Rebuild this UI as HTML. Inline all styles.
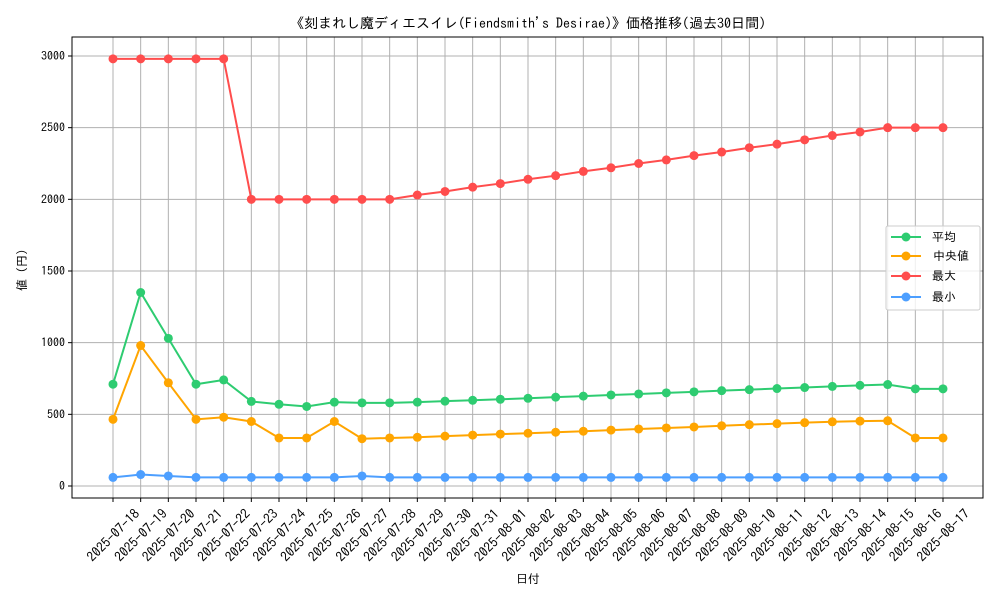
<!DOCTYPE html>
<html><head><meta charset="utf-8"><style>
body{margin:0;background:#fff}
svg text{font-family:"IPAGothic","Noto Sans CJK JP",sans-serif;fill:#000}
</style></head><body>
<svg id="chart" width="1000" height="600" xmlns="http://www.w3.org/2000/svg">
<rect width="1000" height="600" fill="#fff"/>
<text x="528" y="28" font-size="14" text-anchor="middle">《刻まれし魔ディエスイレ(Fiendsmith's Desirae)》価格推移(過去30日間)</text>
<g id="grid"></g><g id="series"></g><g id="axes"></g>
<text x="528" y="583" font-size="12" text-anchor="middle">日付</text>
<text transform="translate(26,270) rotate(-90)" font-size="12" text-anchor="middle">値 (円)</text>
<g>
<rect x="886" y="226" width="94" height="84" fill="#fff" fill-opacity="0.8" stroke="#ccc" rx="2"/>
<line x1="891" y1="237" x2="921" y2="237" stroke="#2ecc71" stroke-width="2"/><circle cx="906" cy="237" r="4.5" fill="#2ecc71"/>
<text x="932" y="241" font-size="12">平均</text>
<line x1="891" y1="256" x2="921" y2="256" stroke="#ffa500" stroke-width="2"/><circle cx="906" cy="256" r="4.5" fill="#ffa500"/>
<text x="933" y="260" font-size="12">中央値</text>
<line x1="891" y1="276" x2="921" y2="276" stroke="#ff4d4d" stroke-width="2"/><circle cx="906" cy="276" r="4.5" fill="#ff4d4d"/>
<text x="932" y="280" font-size="12">最大</text>
<line x1="891" y1="297" x2="921" y2="297" stroke="#4d9fff" stroke-width="2"/><circle cx="906" cy="297" r="4.5" fill="#4d9fff"/>
<text x="932" y="301" font-size="12">最小</text>
</g>
</svg>
<script>
const dates=["2025-07-18","2025-07-19","2025-07-20","2025-07-21","2025-07-22","2025-07-23","2025-07-24","2025-07-25","2025-07-26","2025-07-27","2025-07-28","2025-07-29","2025-07-30","2025-07-31","2025-08-01","2025-08-02","2025-08-03","2025-08-04","2025-08-05","2025-08-06","2025-08-07","2025-08-08","2025-08-09","2025-08-10","2025-08-11","2025-08-12","2025-08-13","2025-08-14","2025-08-15","2025-08-16","2025-08-17"];
const avgValues=[710,1350,1030,710,740,590,570,555,585,580,580,585,592,598,605,612,620,627,635,642,650,657,665,672,680,687,695,702,708,678,678];
const medianValues=[465,980,720,465,480,450,335,335,450,330,335,340,348,355,362,368,375,382,390,398,405,412,420,428,435,442,448,453,455,335,335];
const maxValues=[2980,2980,2980,2980,2980,2000,2000,2000,2000,2000,2000,2030,2055,2085,2110,2140,2165,2195,2220,2250,2275,2305,2330,2360,2385,2415,2445,2470,2500,2500,2500];
const minValues=[60,80,70,60,60,60,60,60,60,70,60,60,60,60,60,60,60,60,60,60,60,60,60,60,60,60,60,60,60,60,60];
const yTicks=[0,500,1000,1500,2000,2500,3000];
const NS="http://www.w3.org/2000/svg";
const L=72,R=983,T=37,B=498;
const xs=i=>113+i*(943-113)/(dates.length-1);
const ys=v=>486-v*(430/3000);
function mk(tag,attrs,parent){const e=document.createElementNS(NS,tag);for(const k in attrs)e.setAttribute(k,attrs[k]);parent.appendChild(e);return e;}
const grid=document.getElementById('grid'),axes=document.getElementById('axes'),ser=document.getElementById('series');
yTicks.forEach(v=>{const y=ys(v);
 const g=mk('line',{x1:L,x2:R,y1:y,y2:y,stroke:'#b0b0b0','stroke-width':1},grid);
 
 
 mk('line',{x1:L-4,x2:L,y1:y,y2:y,stroke:'#000'},axes);
 const t=mk('text',{x:L-7,y:y+4,'font-size':12,'text-anchor':'end'},axes);t.textContent=v;
 
 
});
dates.forEach((d,i)=>{const x=xs(i);
 const g=mk('line',{x1:x,x2:x,y1:T,y2:B,stroke:'#b0b0b0','stroke-width':1},grid);
 
 
 mk('line',{x1:x,x2:x,y1:B,y2:B+4,stroke:'#000'},axes);
 const t=mk('text',{transform:`translate(${x},535) rotate(-45)`,'font-size':13.5,'text-anchor':'middle','dominant-baseline':'central'},axes);t.textContent=d;
 
 
});
const frame=mk('rect',{x:L,y:T,width:R-L,height:B-T,fill:'none',stroke:'#000','stroke-width':1},axes);


[[avgValues,'#2ecc71','avg'],[medianValues,'#ffa500','median'],[maxValues,'#ff4d4d','max'],[minValues,'#4d9fff','min']].forEach(([vals,c,n])=>{
 const g=mk('g',{},ser);
 
 
 const p=mk('polyline',{points:vals.map((v,i)=>xs(i)+','+ys(v)).join(' '),fill:'none',stroke:c,'stroke-width':2},g);
 
 
 vals.forEach((v,i)=>{const m=mk('circle',{cx:xs(i),cy:ys(v),r:4.5,fill:c},g);
  
  });
});
</script>
</body></html>
